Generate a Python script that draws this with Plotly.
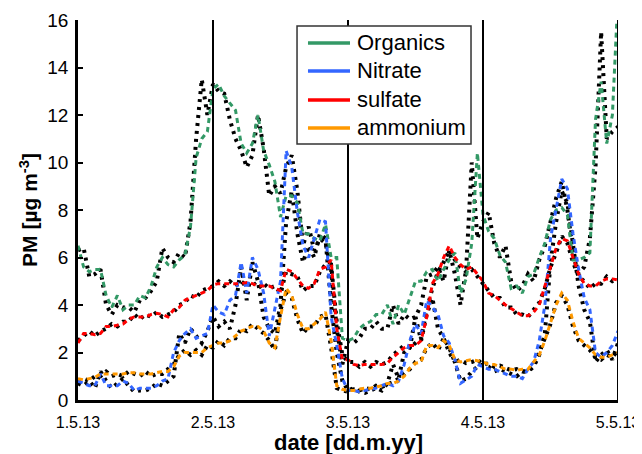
import pandas as pd
import plotly.graph_objects as go

# hourly time stamps, 1.5.13 00:00 .. 5.5.13 00:00
times = pd.date_range("2013-05-01 00:00", "2013-05-05 00:00", freq="h")

tick_vals = ["2013-05-01", "2013-05-02", "2013-05-03", "2013-05-04", "2013-05-05"]
tick_text = ["1.5.13", "2.5.13", "3.5.13", "4.5.13", "5.5.13"]
y_ticks = [0, 2, 4, 6, 8, 10, 12, 14, 16]

organics = [6.5, 5.6, 5.4, 5.5, 5.5, 4.4, 3.9, 4.4, 3.8, 4.0,
            4.0, 4.4, 4.3, 4.8, 5.6, 6.0, 5.7, 5.6, 5.9, 6.1,
            7.3, 10.2, 11.0, 11.3, 13.1, 13.3, 12.8, 12.5, 12.2, 10.8,
            10.4, 10.8, 12.0, 10.5, 9.9, 9.2, 7.7, 8.6, 8.6, 8.3,
            7.0, 7.0, 6.8, 6.7, 7.4, 6.0, 6.0, 2.6, 2.5, 2.6,
            3.0, 3.2, 3.3, 3.6, 3.6, 4.0, 3.2, 4.0, 3.6, 4.3,
            5.0, 5.0, 5.4, 5.5, 5.0, 5.5, 5.9, 6.2, 4.5, 5.1,
            6.6, 10.4, 7.8, 7.1, 6.8, 6.1, 5.8, 4.7, 4.8, 4.5,
            5.2, 5.3, 6.0, 6.6, 7.6, 8.0, 8.1, 7.8, 5.9, 5.9,
            6.0, 6.2, 11.8, 13.4, 10.8, 12.0, 17.0]

nitrate = [0.8, 0.7, 0.6, 0.6, 1.1, 0.6, 0.6, 0.6, 0.8, 0.7,
           0.4, 0.5, 0.5, 0.5, 0.6, 0.8, 0.9, 2.0, 2.5, 2.8,
           3.0, 2.6, 2.7, 2.8, 4.0, 3.7, 3.6, 4.2, 4.4, 5.8,
           4.5, 6.0, 5.5, 4.5, 2.7, 3.8, 5.0, 10.5, 9.8, 7.9,
           6.5, 6.0, 6.8, 7.6, 7.5, 3.5, 2.3, 0.9, 0.4, 0.4,
           0.35, 0.4, 0.45, 0.5, 0.6, 0.7, 0.6, 0.8, 1.5, 2.5,
           3.2, 2.8, 4.2, 3.9, 3.6, 2.7, 2.4, 1.7, 0.7, 0.85,
           1.0, 1.5, 1.4, 1.3, 1.3, 1.2, 1.1, 1.0, 1.0, 0.9,
           1.3, 1.6, 2.5, 4.0, 6.8, 8.0, 9.3, 8.9, 7.0, 5.5,
           4.3, 3.8, 2.0, 1.8, 2.0, 2.3, 2.9]

sulfate = [2.4, 2.8, 2.8, 2.75, 2.8, 3.1, 3.1, 3.15, 3.2, 3.4,
           3.5, 3.5, 3.5, 3.6, 3.65, 3.6, 3.5, 3.8, 3.9, 4.2,
           4.3, 4.4, 4.5, 4.6, 4.85, 4.9, 4.9, 4.9, 4.9, 4.9,
           4.95, 4.9, 4.8, 4.8, 4.8, 4.7, 4.6, 5.5, 5.4, 5.1,
           4.8, 4.7, 4.9, 5.5, 5.6, 5.9, 3.0, 1.7, 1.7, 1.5,
           1.45, 1.5, 1.5, 1.5, 1.5, 1.55, 1.8, 2.0, 2.2, 2.3,
           2.3, 2.5, 3.5, 4.9, 5.3, 6.0, 6.5, 6.0, 5.7, 5.5,
           5.6, 5.3, 5.0, 4.5, 4.4, 4.2, 4.0, 3.85, 3.7, 3.55,
           3.55, 3.7, 4.0, 4.8, 5.5, 6.4, 6.8, 6.7, 6.0, 5.3,
           4.9, 4.8, 4.8, 5.0, 5.1, 5.1, 5.05]

ammonium = [0.9, 0.85, 0.9, 0.95, 1.1, 1.1, 1.1, 1.1, 1.1, 1.15,
            1.15, 1.1, 1.1, 1.1, 1.15, 1.2, 1.2, 1.4, 1.85, 2.0,
            2.0, 2.0, 2.0, 2.2, 2.3, 2.4, 2.4, 2.5, 2.7, 2.9,
            3.0, 3.1, 3.1, 2.9, 2.4, 2.2, 3.5, 4.7, 4.4, 3.6,
            3.0, 3.0, 3.2, 3.4, 3.7, 2.5, 0.6, 0.45, 0.4, 0.4,
            0.45, 0.5, 0.5, 0.55, 0.6, 0.7, 0.7, 0.8, 1.0, 1.35,
            1.55, 1.6, 2.3, 2.3, 2.2, 2.5, 2.3, 1.7, 1.6, 1.65,
            1.7, 1.65, 1.6, 1.5, 1.5, 1.4, 1.3, 1.3, 1.25, 1.3,
            1.3, 1.6, 1.9, 2.5, 3.3, 4.0, 4.5, 4.2, 3.3, 2.6,
            2.4, 2.2, 1.9, 1.8, 1.8, 1.9, 2.0]

# second (black) measurement of the same species
organics_b = [6.3, 6.4, 5.2, 5.3, 5.5, 4.0, 3.6, 4.0, 3.9, 3.9,
              3.7, 4.2, 4.3, 4.6, 5.0, 6.4, 6.0, 5.8, 6.2, 6.0,
              7.5, 11.0, 13.5, 12.0, 13.3, 13.0, 12.9, 11.8, 11.0, 10.5,
              9.8, 10.3, 12.0, 10.6, 8.6, 9.0, 8.7, 9.8, 10.3, 8.8,
              6.5, 7.3, 6.3, 6.8, 6.6, 5.5, 3.0, 1.5, 2.5, 2.4,
              2.6, 3.0, 3.0, 3.3, 3.0, 3.0, 4.0, 3.2, 3.6, 3.4,
              3.5, 4.0, 5.2, 5.3, 5.6, 5.0, 6.3, 5.3, 4.0, 5.5,
              10.0, 6.8, 7.5, 7.9, 6.6, 6.0, 6.5, 5.0, 4.6, 4.8,
              5.3, 5.0, 5.9, 6.5, 7.5, 8.5, 9.2, 8.0, 6.3, 5.3,
              5.6, 6.8, 9.8, 15.5, 11.0, 11.3, 11.5]

nitrate_b = [0.7, 0.6, 0.8, 0.5, 1.2, 0.8, 0.5, 0.7, 0.9, 0.6,
             0.35, 0.4, 0.4, 0.5, 0.7, 0.6, 0.8, 1.0, 2.8, 2.4,
             3.0, 2.7, 2.4, 2.9, 3.5, 3.1, 3.3, 3.0, 4.0, 5.6,
             4.2, 5.8, 5.0, 3.5, 3.0, 2.8, 4.0, 7.5, 8.8, 7.0,
             5.8, 6.5, 6.0, 7.0, 6.8, 4.0, 2.0, 0.8, 0.4, 0.5,
             0.35, 0.3, 0.4, 0.5, 0.4, 0.7, 1.5, 0.9, 2.0, 2.2,
             3.5, 2.5, 3.6, 4.3, 3.0, 2.6, 2.0, 1.6, 0.8, 0.9,
             1.2, 1.4, 1.5, 1.4, 1.2, 1.3, 1.2, 1.1, 1.0, 1.2,
             1.2, 1.4, 1.9, 2.8, 5.8, 7.5, 8.8, 8.3, 6.5, 4.8,
             3.8, 3.3, 1.6, 1.9, 2.1, 1.7, 2.4]

sulfate_b = [2.5, 2.7, 2.9, 2.7, 2.9, 3.0, 3.2, 3.1, 3.3, 3.3,
             3.6, 3.4, 3.6, 3.5, 3.7, 3.5, 3.6, 3.7, 4.0, 4.1,
             4.4, 4.3, 4.6, 4.7, 4.8, 5.0, 4.8, 5.0, 4.8, 5.0,
             4.8, 5.0, 4.7, 4.9, 4.7, 4.8, 4.5, 5.4, 5.3, 5.2,
             4.6, 4.8, 4.8, 5.4, 5.7, 5.7, 3.3, 1.9, 1.6, 1.6,
             1.4, 1.6, 1.4, 1.6, 1.5, 1.6, 1.9, 2.1, 2.3, 2.2,
             2.4, 2.6, 3.8, 4.7, 5.4, 5.8, 6.3, 5.9, 5.6, 5.4,
             5.5, 5.2, 4.9, 4.6, 4.3, 4.3, 3.9, 3.9, 3.6, 3.6,
             3.5, 3.8, 4.1, 4.7, 5.6, 6.2, 6.9, 6.6, 5.8, 5.2,
             5.0, 4.7, 4.9, 4.9, 5.2, 5.0, 5.1]

ammonium_b = [0.8, 0.9, 0.8, 1.0, 1.0, 1.2, 1.0, 1.1, 1.0, 1.2,
              1.1, 1.0, 1.2, 1.0, 1.1, 1.1, 1.3, 1.5, 1.9, 2.1,
              1.9, 2.1, 1.9, 2.3, 2.2, 2.5, 2.3, 2.6, 2.6, 3.0,
              2.9, 3.2, 3.0, 2.8, 2.5, 2.1, 3.8, 4.5, 4.3, 3.4,
              2.8, 3.1, 3.1, 3.5, 3.6, 2.2, 0.5, 0.4, 0.35, 0.45,
              0.4, 0.5, 0.45, 0.6, 0.55, 0.65, 0.75, 0.9, 1.1, 1.3,
              1.6, 1.7, 2.2, 2.4, 2.1, 2.6, 2.2, 1.6, 1.7, 1.55,
              1.6, 1.7, 1.5, 1.55, 1.4, 1.45, 1.35, 1.25, 1.3, 1.2,
              1.2, 1.5, 2.0, 2.6, 3.2, 4.1, 4.4, 4.0, 3.1, 2.5,
              2.3, 2.1, 1.8, 1.7, 1.9, 1.8, 2.1]

names = ["Organics", "Nitrate", "sulfate", "ammonium"]
colors = ["#339966", "#3366ff", "#ff0000", "#ff9900"]
main_series = [organics, nitrate, sulfate, ammonium]
black_series = [organics_b, nitrate_b, sulfate_b, ammonium_b]

FONT = "Arial, Liberation Sans, Helvetica, sans-serif"

fig = go.Figure()

# black reference measurement (underneath)
for vals in black_series:
    fig.add_trace(go.Scatter(x=times, y=vals, mode="lines", showlegend=False,
                             line=dict(color="black", width=4, dash="3px,5px"),
                             hoverinfo="skip"))

# coloured series (dashed, on top)
for name, col, vals in zip(names, colors, main_series):
    fig.add_trace(go.Scatter(x=times, y=vals, mode="lines", name=name, showlegend=False,
                             line=dict(color=col, width=3, dash="5px,4px")))

# vertical day-boundary lines
for d in tick_vals[1:]:
    fig.add_shape(type="line", xref="x", yref="y", x0=d, x1=d, y0=0, y1=16,
                  line=dict(color="black", width=2))

# legend box (drawn in paper coordinates)
fig.add_shape(type="rect", xref="paper", yref="paper", x0=0.4056, x1=0.7278, y0=0.6737, y1=0.9842,
              line=dict(color="#333333", width=1.5), fillcolor="white", layer="above")
row_y = [0.9395, 0.8658, 0.7895, 0.7158]
for name, col, yy in zip(names, colors, row_y):
    fig.add_shape(type="line", xref="paper", yref="paper", x0=0.4259, x1=0.5037, y0=yy, y1=yy,
                  line=dict(color=col, width=3.5), layer="above")
    fig.add_annotation(xref="paper", yref="paper", x=0.5130, y=yy, text=name, showarrow=False,
                       xanchor="left", yanchor="middle", font=dict(size=22, family=FONT, color="black"))

# x-axis title placed explicitly below the tick labels
fig.add_annotation(xref="paper", yref="paper", x=0.5, y=-0.113, text="<b>date [dd.m.yy]</b>",
                   showarrow=False, xanchor="center", yanchor="middle",
                   font=dict(size=22, family=FONT, color="black"))

# the page body has an 8 px margin: figure is 634x446 placed at (8, 8)
fig.update_layout(
    width=634, height=446,
    margin=dict(l=70, r=24, t=12, b=54, autoexpand=False),
    paper_bgcolor="white", plot_bgcolor="white",
    font=dict(family=FONT, color="black"),
    showlegend=False,
    xaxis=dict(range=["2013-05-01", "2013-05-05"], tickvals=tick_vals, ticktext=tick_text,
               automargin=False,
               showgrid=False, zeroline=False, showline=True, linecolor="black", linewidth=2.5,
               ticks="inside", ticklen=5, tickwidth=2, tickcolor="black",
               tickfont=dict(size=16, family=FONT), ticklabelstandoff=6),
    yaxis=dict(range=[0, 16], tickvals=y_ticks, automargin=False,
               showgrid=False, zeroline=False, showline=True, linecolor="black", linewidth=2.5,
               ticks="inside", ticklen=5, tickwidth=2, tickcolor="black",
               tickfont=dict(size=19, family=FONT), ticklabelstandoff=3,
               title=dict(text="<b>PM [µg m<sup>-3</sup>]</b>", font=dict(size=21, family=FONT), standoff=4)),
)

fig.write_html("out.html")
